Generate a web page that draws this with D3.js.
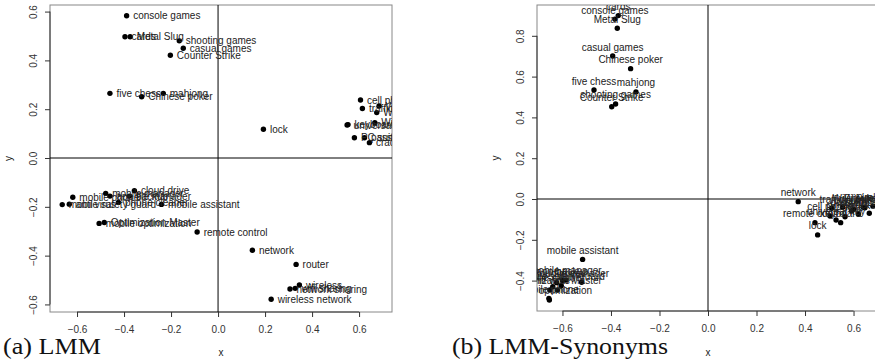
<!DOCTYPE html>
<html>
<head>
<meta charset="utf-8">
<script src="https://cdn.jsdelivr.net/npm/d3@7"></script>
<style>
  body { margin: 0; background: #fff; }
  svg { display: block; }
  .lbl { font-family: "Liberation Sans", Arial, sans-serif; font-size: 10px; fill: #222; }
  .tick text { font-family: "Liberation Sans", Arial, sans-serif; font-size: 10px; fill: #333; }
  .cap { font-family: "Liberation Serif", "DejaVu Serif", serif; font-size: 24px; fill: #111; }
</style>
</head>
<body>
<svg id="chart" width="875" height="363"></svg>
<script>
// ---- data: panel (a) LMM ----
const wordsA = ['console games', 'cards', 'Metal Slug', 'shooting games', 'casual games', 'Counter Strike',
  'five chess', 'mahjong', 'Chinese poker', 'lock', 'cell phone', 'traffic', 'WiFi', 'WLAN', 'WiFi key',
  'universal key', 'keyboard', 'PC suite', 'password', 'crack', 'cloud drive', 'mobile manager', 'app backup',
  'file manager', 'mobile phone', 'phone cleaner', 'anti virus', 'mobile safety guard', 'mobile assistant',
  'Optimization Master', 'mobile optimization', 'remote control', 'network', 'router', 'wireless',
  'network sharing', 'wifi sharing', 'wireless network'];
const xA = [-0.389, -0.396, -0.374, -0.165, -0.148, -0.203, -0.460, -0.233, -0.325, 0.193, 0.606, 0.614,
  0.685, 0.675, 0.667, 0.549, 0.553, 0.580, 0.623, 0.644, -0.356, -0.478, -0.460, -0.377, -0.618, -0.424,
  -0.633, -0.663, -0.241, -0.484, -0.506, -0.089, 0.146, 0.332, 0.346, 0.306, 0.328, 0.226];
const yA = [0.583, 0.497, 0.497, 0.480, 0.450, 0.421, 0.265, 0.265, 0.251, 0.118, 0.238, 0.203, 0.213,
  0.186, 0.145, 0.135, 0.137, 0.083, 0.083, 0.063, -0.134, -0.145, -0.156, -0.156, -0.161, -0.182, -0.189,
  -0.191, -0.190, -0.264, -0.268, -0.303, -0.378, -0.436, -0.520, -0.537, -0.534, -0.579];

// ---- data: panel (b) LMM-Synonyms ----
const wordsB = ['cards', 'console games', 'Metal Slug', 'casual games', 'Chinese poker', 'five chess',
  'mahjong', 'shooting games', 'Counter Strike', 'mobile assistant', 'mobile manager', 'cloud drive',
  'file manager', 'app backup', 'phone cleaner', 'anti virus', 'mobile safety guard', 'Optimization Master',
  'mobile phone', 'mobile optimization', 'network', 'remote control', 'lock', 'cell phone', 'traffic', 'WiFi',
  'WLAN', 'WiFi key', 'universal key', 'keyboard', 'PC suite', 'password', 'crack', 'router', 'wireless',
  'wireless network', 'network sharing', 'wifi sharing'];
const xB = [-0.370, -0.384, -0.374, -0.393, -0.319, -0.470, -0.297, -0.381, -0.397, -0.517, -0.586, -0.624,
  -0.521, -0.600, -0.640, -0.652, -0.605, -0.621, -0.656, -0.654, 0.372, 0.441, 0.452, 0.503, 0.510, 0.555,
  0.600, 0.640, 0.528, 0.547, 0.565, 0.592, 0.620, 0.647, 0.680, 0.700, 0.665, 0.720];
const yB = [0.899, 0.882, 0.837, 0.701, 0.639, 0.534, 0.525, 0.466, 0.452, -0.296, -0.397, -0.410, -0.408,
  -0.400, -0.430, -0.446, -0.425, -0.446, -0.487, -0.495, -0.013, -0.116, -0.176, -0.083, -0.045, -0.040,
  -0.050, -0.040, -0.103, -0.116, -0.087, -0.059, -0.075, -0.043, -0.035, -0.060, -0.070, -0.045];

// ---- tick labels ----
const xTicks = [-0.6, -0.4, -0.2, 0.0, 0.2, 0.4, 0.6];
const yTicksA = [-0.6, -0.4, -0.2, 0.0, 0.2, 0.4, 0.6];
const yTicksB = [-0.4, -0.2, 0.0, 0.2, 0.4, 0.6, 0.8];

const svg = d3.select('#chart');
const fmt = v => d3.format('.1f')(v).replace('-', '\u2212');

function drawPanel(id, words, xs, ys, cfg) {
  const x = d3.scaleLinear().domain(cfg.xDomain).range([cfg.left, cfg.right]);
  const y = d3.scaleLinear().domain(cfg.yDomain).range([cfg.bottom, cfg.top]);
  const g = svg.append('g');

  g.append('clipPath').attr('id', 'clip-' + id)
    .append('rect')
    .attr('x', cfg.left).attr('y', cfg.top)
    .attr('width', cfg.right - cfg.left).attr('height', cfg.bottom - cfg.top);

  // box
  g.append('rect')
    .attr('x', cfg.left).attr('y', cfg.top)
    .attr('width', cfg.right - cfg.left).attr('height', cfg.bottom - cfg.top)
    .attr('fill', 'none').attr('stroke', '#888');

  // axes, R style: line only from first to last tick
  const xAxis = g.append('g').attr('transform', `translate(0,${cfg.bottom})`)
    .call(d3.axisBottom(x).tickValues(xTicks).tickSize(5).tickPadding(9).tickFormat(fmt));
  xAxis.select('.domain').remove();
  xAxis.append('line')
    .attr('x1', x(xTicks[0])).attr('x2', x(xTicks[xTicks.length - 1]))
    .attr('stroke', '#333');
  xAxis.selectAll('.tick line').attr('stroke', '#333');

  const yTicks = cfg.yTicks;
  const yAxis = g.append('g').attr('transform', `translate(${cfg.left},0)`)
    .call(d3.axisLeft(y).tickValues(yTicks).tickSize(5).tickFormat(fmt));
  yAxis.select('.domain').remove();
  yAxis.append('line')
    .attr('y1', y(yTicks[0])).attr('y2', y(yTicks[yTicks.length - 1]))
    .attr('stroke', '#333');
  yAxis.selectAll('.tick line').attr('stroke', '#333');
  yAxis.selectAll('.tick text')
    .attr('x', null).attr('dy', null)
    .attr('text-anchor', 'middle')
    .attr('transform', 'translate(-13,0) rotate(-90)');

  // axis titles
  g.append('text').attr('class', 'lbl')
    .attr('x', (cfg.left + cfg.right) / 2).attr('y', 356)
    .attr('text-anchor', 'middle').text('x');
  g.append('text').attr('class', 'lbl')
    .attr('transform', `translate(${cfg.left - 38},${(cfg.top + cfg.bottom) / 2}) rotate(-90)`)
    .attr('text-anchor', 'middle').text('y');

  // reference lines at zero
  const inner = g.append('g').attr('clip-path', `url(#clip-${id})`);
  inner.append('line')
    .attr('x1', x(0)).attr('x2', x(0)).attr('y1', cfg.top).attr('y2', cfg.bottom)
    .attr('stroke', '#000');
  inner.append('line')
    .attr('x1', cfg.left).attr('x2', cfg.right).attr('y1', y(0)).attr('y2', y(0))
    .attr('stroke', '#000');

  const idx = d3.range(words.length);
  inner.selectAll('circle').data(idx).enter().append('circle')
    .attr('cx', i => x(xs[i])).attr('cy', i => y(ys[i]))
    .attr('r', 2.7).attr('fill', '#000');

  const labels = inner.selectAll('text.lbl').data(idx).enter().append('text')
    .attr('class', 'lbl').text(i => words[i]);
  if (cfg.labelPos === 'right') {
    labels.attr('x', i => x(xs[i]) + 6.5).attr('y', i => y(ys[i]) + 3.6);
  } else {
    labels.attr('x', i => x(xs[i])).attr('y', i => y(ys[i]) - 5.5).attr('text-anchor', 'middle');
  }

  g.append('text').attr('class', 'cap')
    .attr('x', cfg.capX).attr('y', 354)
    .attr('textLength', cfg.capW).attr('lengthAdjust', 'spacingAndGlyphs')
    .text(cfg.caption);
}

drawPanel('a', wordsA, xA, yA, {
  xDomain: [-0.715, 0.74], yDomain: [-0.631, 0.627],
  left: 50, right: 392, top: 5, bottom: 312,
  yTicks: yTicksA, labelPos: 'right',
  caption: '(a) LMM', capX: 3, capW: 98
});

drawPanel('b', wordsB, xB, yB, {
  xDomain: [-0.705, 0.705], yDomain: [-0.549, 0.951],
  left: 537, right: 879, top: 5, bottom: 311,
  yTicks: yTicksB, labelPos: 'top',
  caption: '(b) LMM-Synonyms', capX: 452, capW: 216
});
</script>
</body>
</html>
